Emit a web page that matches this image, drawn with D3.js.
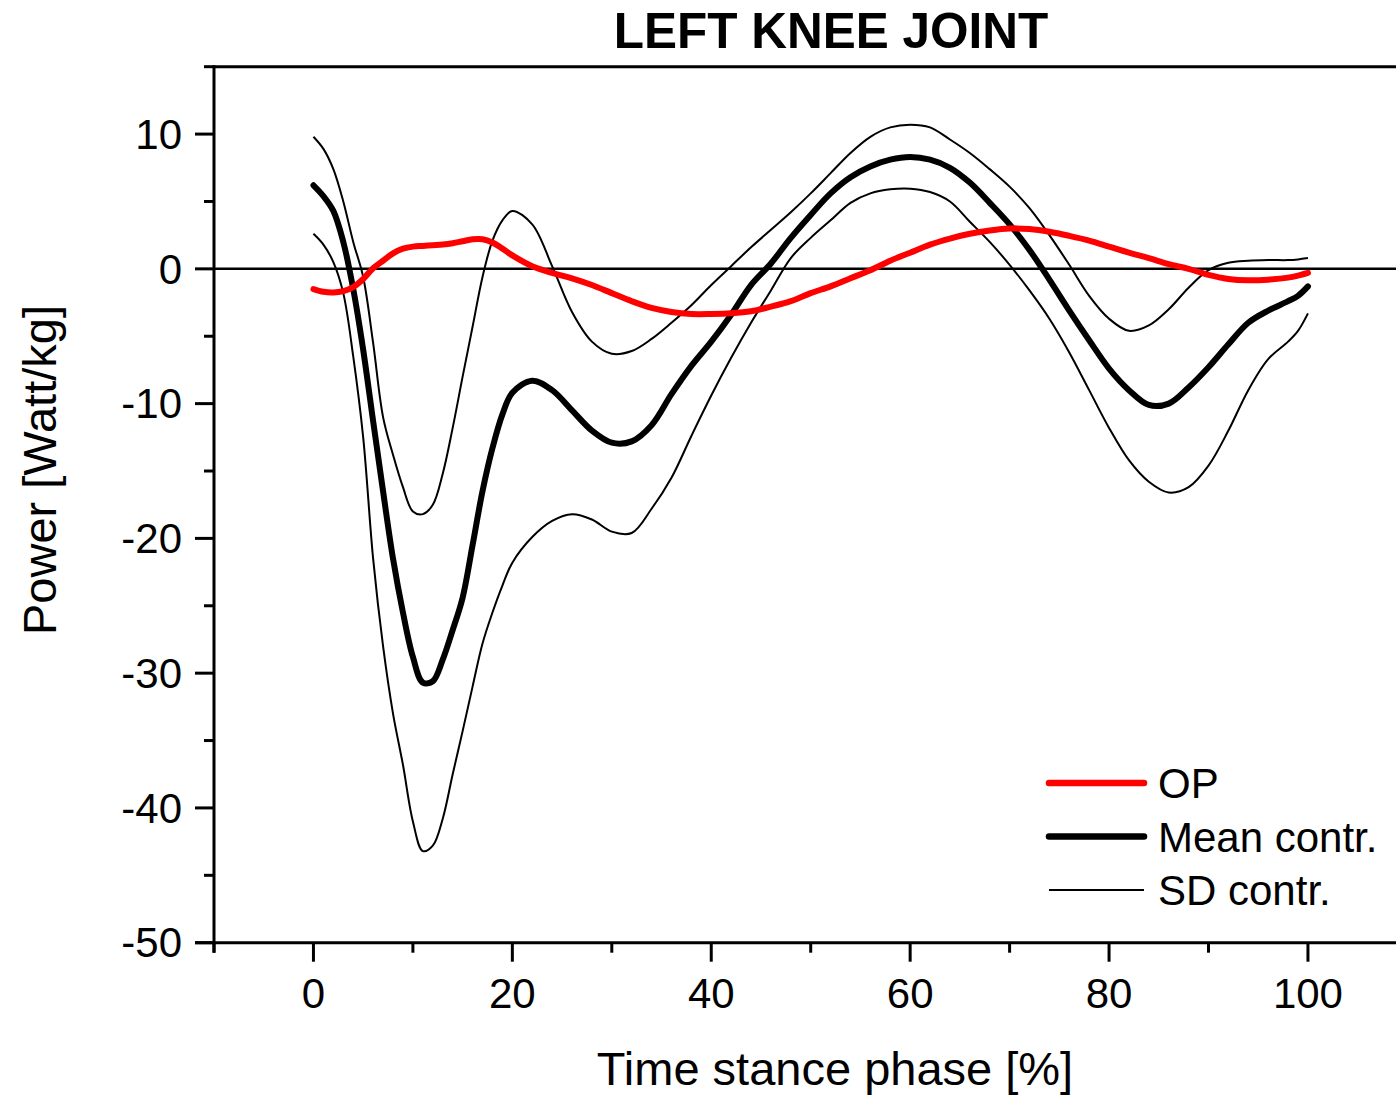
<!DOCTYPE html>
<html>
<head>
<meta charset="utf-8">
<script src="https://cdn.jsdelivr.net/npm/d3@7"></script>
<style>
  html, body { margin: 0; padding: 0; background: #fff; }
  svg { display: block; font-family: "Liberation Sans", Arial, sans-serif; }
</style>
</head>
<body>
<svg id="chart" width="1396" height="1096"></svg>
<script>
// Stance phase sample points (% of stance)
const phase = [0,1,2,3,4,5,6,7,8,9,10,11,12,13,14,15,16,17,18,19,20,
  22,24,26,28,30,32,34,36,38,40,42,44,46,48,50,52,54,56,58,60,
  62,64,66,68,70,72,74,76,78,80,82,84,86,88,90,92,94,96,98,99,100];

// Knee joint power [W/kg] of the patient (OP)
const opPower = [-1.5,-1.7,-1.75,-1.65,-1.35,-0.75,0.05,0.6,1.15,1.5,1.65,1.7,1.75,1.8,1.9,2.05,2.2,2.2,1.95,1.5,1.0,
  0.2,-0.3,-0.7,-1.2,-1.8,-2.4,-2.9,-3.2,-3.35,-3.35,-3.3,-3.15,-2.8,-2.4,-1.8,-1.3,-0.7,-0.1,0.6,1.2,
  1.8,2.25,2.6,2.85,3.0,2.95,2.75,2.45,2.1,1.65,1.2,0.8,0.35,0.0,-0.45,-0.75,-0.85,-0.8,-0.65,-0.5,-0.3];

// Control group mean
const meanContr = [6.2,5.4,4.3,2.0,-1.5,-6.0,-11.3,-16.5,-21.5,-25.5,-28.8,-30.7,-30.6,-29.0,-26.8,-24.4,-20.5,-16.5,-13.3,-10.8,-9.2,
  -8.3,-9.0,-10.5,-12.0,-12.9,-12.8,-11.6,-9.3,-7.2,-5.4,-3.4,-1.2,0.4,2.3,4.0,5.6,6.8,7.6,8.1,8.3,
  8.1,7.5,6.4,4.9,3.3,1.4,-0.8,-3.1,-5.3,-7.4,-9.0,-10.1,-10.0,-8.8,-7.3,-5.6,-4.0,-3.1,-2.4,-2.0,-1.3];

// Control group mean + SD
const sdUpper = [9.8,8.9,7.4,5.0,2.0,-0.6,-5.5,-11.0,-13.8,-16.2,-18.0,-18.2,-17.5,-15.2,-11.8,-8.0,-4.3,-0.6,2.1,3.6,4.3,
  3.3,0.2,-3.2,-5.4,-6.3,-6.1,-5.2,-4.0,-2.7,-1.2,0.2,1.6,2.9,4.2,5.6,7.1,8.6,9.8,10.5,10.7,
  10.5,9.6,8.6,7.4,6.1,4.5,2.5,0.3,-2.0,-3.7,-4.6,-4.2,-3.0,-1.4,-0.1,0.45,0.6,0.65,0.65,0.7,0.8];

// Control group mean - SD
const sdLower = [2.6,1.8,0.5,-1.8,-6.5,-12.5,-21.5,-28.0,-33.0,-36.8,-41.0,-43.2,-42.8,-40.8,-37.5,-34.3,-31.0,-27.8,-25.5,-23.5,-21.8,
  -19.9,-18.7,-18.2,-18.6,-19.5,-19.6,-17.8,-15.5,-12.4,-9.4,-6.6,-4.0,-1.6,0.8,2.3,3.6,4.9,5.6,5.9,5.95,
  5.7,5.0,3.5,2.0,0.3,-1.6,-3.7,-6.2,-9.0,-11.8,-14.2,-15.8,-16.6,-16.2,-14.6,-12.0,-9.0,-6.7,-5.4,-4.6,-3.3];

const xMajorTicks = [0, 20, 40, 60, 80, 100];
const xMinorTicks = [-10, 10, 30, 50, 70, 90];
const yMajorTicks = [-50, -40, -30, -20, -10, 0, 10];
const yMinorTicks = [-45, -35, -25, -15, -5, 5, 15];
const yTickLabels = ["-50", "-40", "-30", "-20", "-10", "0", "10"];

const legendItems = [
  { label: "OP", color: "#ff0000", width: 6.5 },
  { label: "Mean contr.", color: "#000", width: 6.5 },
  { label: "SD contr.", color: "#000", width: 2 }
];

const svg = d3.select("#chart");

const x = d3.scaleLinear().domain([-10, 110]).range([214, 1407.4]);
const y = d3.scaleLinear().domain([-50, 15]).range([942.7, 66.7]);

// Frame: top border and zero reference line
svg.append("line")
  .attr("x1", x(-10)).attr("x2", 1396)
  .attr("y1", y(15)).attr("y2", y(15))
  .attr("stroke", "#000").attr("stroke-width", 3);

svg.append("line")
  .attr("x1", x(-10)).attr("x2", 1396)
  .attr("y1", y(0)).attr("y2", y(0))
  .attr("stroke", "#000").attr("stroke-width", 2.5);

// Left axis
const yAxis = svg.append("g").attr("transform", `translate(${x(-10)},0)`);
yAxis.append("line")
  .attr("x1", 0).attr("x2", 0).attr("y1", y(15) - 1.5).attr("y2", y(-50) + 10)
  .attr("stroke", "#000").attr("stroke-width", 3);
yAxis.selectAll("line.major").data(yMajorTicks).join("line")
  .attr("class", "major")
  .attr("x1", -19).attr("x2", 0)
  .attr("y1", d => y(d)).attr("y2", d => y(d))
  .attr("stroke", "#000").attr("stroke-width", 3);
yAxis.selectAll("line.minor").data(yMinorTicks).join("line")
  .attr("class", "minor")
  .attr("x1", -10).attr("x2", 0)
  .attr("y1", d => y(d)).attr("y2", d => y(d))
  .attr("stroke", "#000").attr("stroke-width", 3);
yAxis.selectAll("text").data(yMajorTicks).join("text")
  .attr("x", -32).attr("y", d => y(d))
  .attr("dy", "0.35em")
  .attr("text-anchor", "end")
  .attr("font-size", 42)
  .text((d, i) => yTickLabels[i]);

// Bottom axis
const xAxis = svg.append("g").attr("transform", `translate(0,${y(-50)})`);
xAxis.append("line")
  .attr("x1", x(-10) - 19).attr("x2", 1396).attr("y1", 0).attr("y2", 0)
  .attr("stroke", "#000").attr("stroke-width", 3);
xAxis.selectAll("line.major").data(xMajorTicks).join("line")
  .attr("class", "major")
  .attr("x1", d => x(d)).attr("x2", d => x(d))
  .attr("y1", 0).attr("y2", 19)
  .attr("stroke", "#000").attr("stroke-width", 3);
xAxis.selectAll("line.minor").data(xMinorTicks).join("line")
  .attr("class", "minor")
  .attr("x1", d => x(d)).attr("x2", d => x(d))
  .attr("y1", 0).attr("y2", 10)
  .attr("stroke", "#000").attr("stroke-width", 3);
xAxis.selectAll("text").data(xMajorTicks).join("text")
  .attr("x", d => x(d)).attr("y", 65)
  .attr("text-anchor", "middle")
  .attr("font-size", 42)
  .text(d => d);

// Curves
const line = series => d3.line()
  .x((d, i) => x(phase[i]))
  .y(d => y(d))
  .curve(d3.curveCatmullRom.alpha(0.5))(series);

const plot = svg.append("g");
plot.append("path").attr("d", line(sdUpper))
  .attr("fill", "none").attr("stroke", "#000").attr("stroke-width", 2);
plot.append("path").attr("d", line(sdLower))
  .attr("fill", "none").attr("stroke", "#000").attr("stroke-width", 2);
plot.append("path").attr("d", line(meanContr))
  .attr("fill", "none").attr("stroke", "#000").attr("stroke-width", 6)
  .attr("stroke-linejoin", "round").attr("stroke-linecap", "round");
plot.append("path").attr("d", line(opPower))
  .attr("fill", "none").attr("stroke", "#ff0000").attr("stroke-width", 6)
  .attr("stroke-linejoin", "round").attr("stroke-linecap", "round");

// Legend
const legend = svg.append("g").selectAll("g").data(legendItems).join("g")
  .attr("transform", (d, i) => `translate(0,${783 + i * 53.5})`);
legend.append("line")
  .attr("x1", 1049).attr("x2", 1144).attr("y1", 0).attr("y2", 0)
  .attr("stroke", d => d.color).attr("stroke-width", d => d.width)
  .attr("stroke-linecap", d => d.width > 3 ? "round" : "butt");
legend.append("text")
  .attr("x", 1158).attr("y", 0).attr("dy", "0.36em")
  .attr("font-size", 42)
  .text(d => d.label);

// Titles
svg.append("text")
  .attr("x", 831).attr("y", 48)
  .attr("text-anchor", "middle")
  .attr("font-size", 49.5).attr("font-weight", "bold")
  .text("LEFT KNEE JOINT");

svg.append("text")
  .attr("x", 835).attr("y", 1085)
  .attr("text-anchor", "middle")
  .attr("font-size", 47)
  .text("Time stance phase [%]");

svg.append("text")
  .attr("transform", "translate(56,470) rotate(-90)")
  .attr("text-anchor", "middle")
  .attr("font-size", 47)
  .text("Power [Watt/kg]");
</script>
</body>
</html>
